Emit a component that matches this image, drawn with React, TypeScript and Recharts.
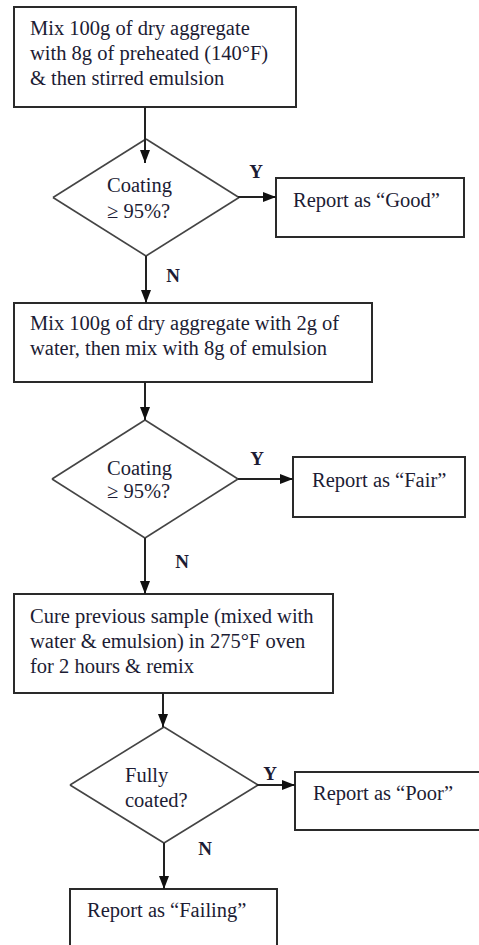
import React from 'react';
import { ScatterChart, Scatter, XAxis, YAxis, ReferenceArea, ReferenceLine } from 'recharts';

// process boxes: frame in chart units (x1, y1, x2, y2)
const stepFrames = [
  [14, 7, 296, 107],
  [276, 178, 464, 237],
  [14, 303, 372, 382],
  [293, 457, 465, 517],
  [14, 594, 333, 693],
  [295, 772, 530, 830],
  [70, 889, 277, 990],
];

// decisions: centre x, centre y, half width, half height
const decisions = [
  [146, 197.5, 93, 58.5],
  [145, 479, 93, 59],
  [164, 785, 94, 58],
];

// connectors: from -> to (arrow at the end)
const connectors = [
  [145, 107, 145, 163],
  [238, 197, 276, 197],
  [146, 256, 146, 303],
  [145, 382, 145, 420],
  [238, 479, 293, 479],
  [145, 538, 145, 594],
  [163, 693, 163, 727],
  [257, 785, 295, 785],
  [164, 843, 164, 889],
];

const stepText = [
  { x: 30, y: 35, text: 'Mix 100g of dry aggregate' },
  { x: 30, y: 60, text: 'with 8g of preheated (140°F)' },
  { x: 30, y: 85, text: '& then stirred emulsion' },
  { x: 293, y: 207, text: 'Report as “Good”' },
  { x: 30, y: 330, text: 'Mix 100g of dry aggregate with 2g of' },
  { x: 30, y: 355, text: 'water, then mix with 8g of emulsion' },
  { x: 312, y: 487, text: 'Report as “Fair”' },
  { x: 30, y: 623, text: 'Cure previous sample (mixed with' },
  { x: 30, y: 648, text: 'water & emulsion) in 275°F oven' },
  { x: 30, y: 673, text: 'for 2 hours & remix' },
  { x: 313, y: 800, text: 'Report as “Poor”' },
  { x: 87, y: 917, text: 'Report as “Failing”' },
  { x: 107, y: 192, text: 'Coating' },
  { x: 107, y: 218, text: '≥ 95%?' },
  { x: 107, y: 475, text: 'Coating' },
  { x: 107, y: 498, text: '≥ 95%?' },
  { x: 125, y: 782, text: 'Fully' },
  { x: 125, y: 807, text: 'coated?' },
];

const branchText = [
  { x: 256, y: 178, text: 'Y' },
  { x: 173, y: 282, text: 'N' },
  { x: 257, y: 465, text: 'Y' },
  { x: 182, y: 568, text: 'N' },
  { x: 270, y: 780, text: 'Y' },
  { x: 205, y: 855, text: 'N' },
];

const FONT = '"Liberation Serif", "Times New Roman", serif';
const INK = '#1c1c34';

const arrowTips = connectors.map(([x1, y1, x2, y2]) => ({
  x: x2,
  y: y2,
  dir: x2 > x1 ? 'right' : 'down',
}));

const diamondEdges = decisions.flatMap(([cx, cy, hw, hh]) => {
  const pts = [
    { x: cx, y: cy - hh },
    { x: cx + hw, y: cy },
    { x: cx, y: cy + hh },
    { x: cx - hw, y: cy },
  ];
  return pts.map((p, i) => [p, pts[(i + 1) % 4]]);
});

const TextShape = (props: any) => (
  <text x={props.cx} y={props.cy} fontFamily={FONT} fontSize={20.5} fill={INK}>
    {props.payload.text}
  </text>
);

const BranchShape = (props: any) => (
  <text x={props.cx} y={props.cy} fontFamily={FONT} fontSize={19} fontWeight="bold" fill={INK} textAnchor="middle">
    {props.payload.text}
  </text>
);

const ArrowHead = (props: any) => {
  const { cx, cy } = props;
  const pts = props.payload.dir === 'right'
    ? `${cx},${cy} ${cx - 13},${cy - 5} ${cx - 13},${cy + 5}`
    : `${cx},${cy} ${cx - 5},${cy - 13} ${cx + 5},${cy - 13}`;
  return <polygon points={pts} fill="#111" />;
};

export default function App() {
  return (
    <div style={{ position: 'absolute', left: 0, top: 0, background: '#fff' }}>
      <ScatterChart width={479} height={945} margin={{ top: 0, right: 0, bottom: 0, left: 0 }}>
        <XAxis type="number" dataKey="x" domain={[0, 479]} hide allowDataOverflow />
        <YAxis type="number" dataKey="y" domain={[0, 945]} reversed hide allowDataOverflow />
        {stepFrames.map(([x1, y1, x2, y2], i) => (
          <ReferenceArea
            key={`box-${i}`}
            x1={x1}
            x2={x2}
            y1={y1}
            y2={y2}
            fill="#fff"
            fillOpacity={1}
            stroke="#2a2a2a"
            strokeWidth={2}
            ifOverflow="visible"
          />
        ))}
        {diamondEdges.map(([a, b], i) => (
          <ReferenceLine key={`edge-${i}`} segment={[a, b]} stroke="#444" strokeWidth={1.6} ifOverflow="visible" />
        ))}
        {connectors.map(([x1, y1, x2, y2], i) => (
          <ReferenceLine
            key={`con-${i}`}
            segment={[{ x: x1, y: y1 }, { x: x2, y: y2 }]}
            stroke="#222"
            strokeWidth={2}
            ifOverflow="visible"
          />
        ))}
        <Scatter data={arrowTips} dataKey="y" shape={ArrowHead} isAnimationActive={false} />
        <Scatter data={stepText} dataKey="y" shape={TextShape} isAnimationActive={false} />
        <Scatter data={branchText} dataKey="y" shape={BranchShape} isAnimationActive={false} />
      </ScatterChart>
    </div>
  );
}
